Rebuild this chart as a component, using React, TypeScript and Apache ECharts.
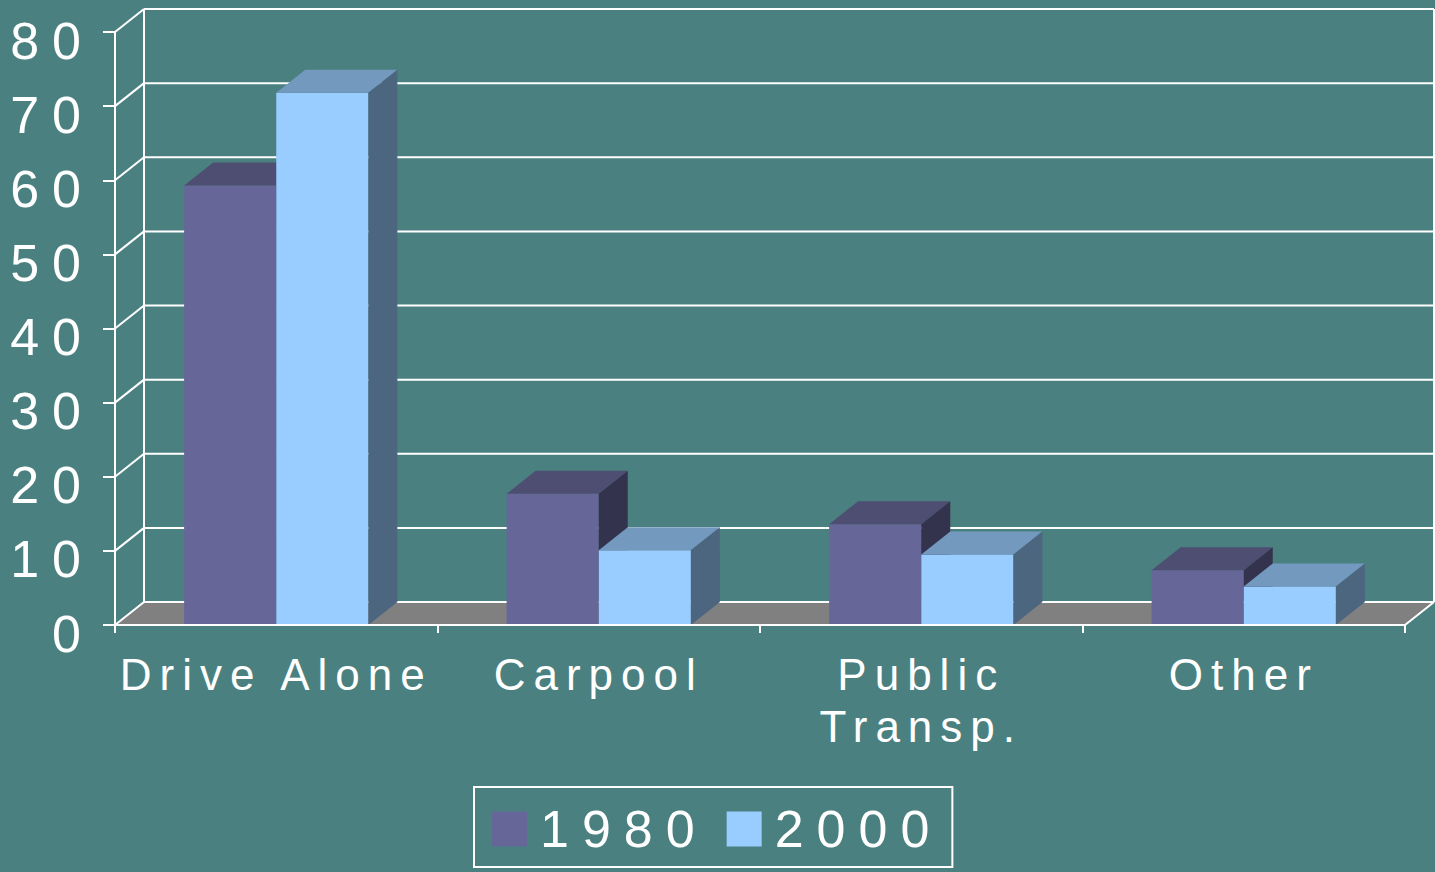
import React, { useEffect, useRef } from "react";
import * as echarts from "echarts";

const categories = ["Drive Alone", "Carpool", "Public\nTransp.", "Other"];
const years = ["1980", "2000"];
const values1980 = [59.3, 17.7, 13.6, 7.4];
const values2000 = [71.8, 10.1, 9.5, 5.2];
const yTicks = [0, 10, 20, 30, 40, 50, 60, 70, 80];

const BG = "#4a8180";
const FONT = '"Liberation Sans", Arial, sans-serif';
const DX = 29;
const DY = -23;

const palettes = [
  { front: "#666699", top: "#4e4e72", side: "#33334e" },
  { front: "#99ccff", top: "#7399bf", side: "#4d6680" },
];

function barRender(seriesIdx: number) {
  return (params: any, api: any) => {
    const cat = api.value(0);
    const val = api.value(1);
    const top = api.coord([cat, val]);
    const base = api.coord([cat, 0]);
    const band = api.size([1, 0])[0];
    const bw = band / 3.5;
    const x0 = seriesIdx === 0 ? top[0] - bw : top[0];
    const yt = top[1];
    const yb = base[1];
    const pal = palettes[seriesIdx];
    return {
      type: "group",
      children: [
        {
          type: "rect",
          shape: { x: x0, y: yt, width: bw, height: yb - yt },
          style: { fill: pal.front },
        },
        {
          type: "polygon",
          shape: {
            points: [
              [x0, yt],
              [x0 + bw, yt],
              [x0 + bw + DX, yt + DY],
              [x0 + DX, yt + DY],
            ],
          },
          style: { fill: pal.top },
        },
        {
          type: "polygon",
          shape: {
            points: [
              [x0 + bw, yt],
              [x0 + bw + DX, yt + DY],
              [x0 + bw + DX, yb + DY],
              [x0 + bw, yb],
            ],
          },
          style: { fill: pal.side },
        },
      ],
    };
  };
}

function wallRender(params: any, api: any) {
  const v = api.value(1);
  const p = api.coord([0, v]);
  const cs = params.coordSys;
  const xl = cs.x;
  const xr = cs.x + cs.width;
  const y = p[1];
  const lineStyle = { stroke: "#ffffff", lineWidth: 2 };
  const children: any[] = [];
  if (v === 0) {
    const top = api.coord([0, yTicks[yTicks.length - 1]])[1];
    children.push({
      type: "polygon",
      shape: { points: [[xl, y], [xr, y], [xr + DX, y + DY], [xl + DX, y + DY]] },
      style: { fill: "#808080" },
    });
    children.push({
      type: "line",
      shape: { x1: xl + DX, y1: top + DY, x2: xl + DX, y2: y + DY },
      style: lineStyle,
    });
    children.push({
      type: "line",
      shape: { x1: xr + DX, y1: top + DY, x2: xr + DX, y2: y + DY },
      style: lineStyle,
    });
    children.push({
      type: "line",
      shape: { x1: xr, y1: y, x2: xr + DX, y2: y + DY },
      style: lineStyle,
    });
  }
  children.push({
    type: "line",
    shape: { x1: xl + DX, y1: y + DY, x2: xr + DX, y2: y + DY },
    style: lineStyle,
  });
  children.push({
    type: "line",
    shape: { x1: xl, y1: y, x2: xl + DX, y2: y + DY },
    style: lineStyle,
  });
  return { type: "group", children };
}

export default function App() {
  const ref = useRef<HTMLDivElement>(null);
  useEffect(() => {
    if (!ref.current) return;
    const chart = echarts.init(ref.current, null, { renderer: "svg" });
    chart.setOption({
      animation: false,
      backgroundColor: BG,
      textStyle: { fontFamily: FONT },
      grid: { left: 115, right: 30, top: 32, bottom: 247 },
      legend: {
        data: years,
        left: 474,
        top: 787,
        orient: "horizontal",
        icon: "rect",
        itemWidth: 35,
        itemHeight: 35,
        itemGap: 71,
        padding: [16, 62, 12, 18],
        borderColor: "#ffffff",
        borderWidth: 2,
        textStyle: {
          color: "#ffffff",
          fontSize: 52,
          lineHeight: 52,
          padding: [0, 0, 0, 8],
          fontFamily: FONT,
        },
      },
      xAxis: {
        type: "category",
        data: categories,
        z: 10,
        axisLine: { lineStyle: { color: "#ffffff", width: 2 } },
        axisTick: { show: true, length: 8, lineStyle: { color: "#ffffff", width: 2 } },
        axisLabel: {
          color: "#ffffff",
          fontSize: 44,
          lineHeight: 52,
          margin: 23,
          interval: 0,
          fontFamily: FONT,
        },
        splitLine: { show: false },
      },
      yAxis: {
        type: "value",
        min: 0,
        max: 80,
        interval: 10,
        z: 10,
        axisLine: { show: true, lineStyle: { color: "#ffffff", width: 2 } },
        axisTick: { show: true, length: 12, lineStyle: { color: "#ffffff", width: 2 } },
        axisLabel: {
          color: "#ffffff",
          fontSize: 52,
          margin: 21,
          verticalAlign: "top",
          lineHeight: 17,
          fontFamily: FONT,
        },
        splitLine: { show: false },
      },
      series: [
        {
          type: "custom",
          name: "walls",
          renderItem: wallRender,
          data: yTicks.map((t) => [0, t]),
          encode: { x: 0, y: 1 },
          silent: true,
          z: 1,
        },
        {
          type: "custom",
          name: years[0],
          renderItem: barRender(0),
          itemStyle: { color: palettes[0].front },
          data: values1980.map((v, i) => [i, v]),
          encode: { x: 0, y: 1 },
          z: 2,
        },
        {
          type: "custom",
          name: years[1],
          renderItem: barRender(1),
          itemStyle: { color: palettes[1].front },
          data: values2000.map((v, i) => [i, v]),
          encode: { x: 0, y: 1 },
          z: 3,
        },
      ],
    });
    return () => chart.dispose();
  }, []);
  return (
    <>
      <style>{`
        .ec-chart svg text { letter-spacing: 13px; }
        .ec-chart svg text[text-anchor="middle"] { letter-spacing: 8px; }
      `}</style>
      <div
        ref={ref}
        className="ec-chart"
        style={{ position: "absolute", left: 0, top: 0, width: 1435, height: 872 }}
      />
    </>
  );
}
